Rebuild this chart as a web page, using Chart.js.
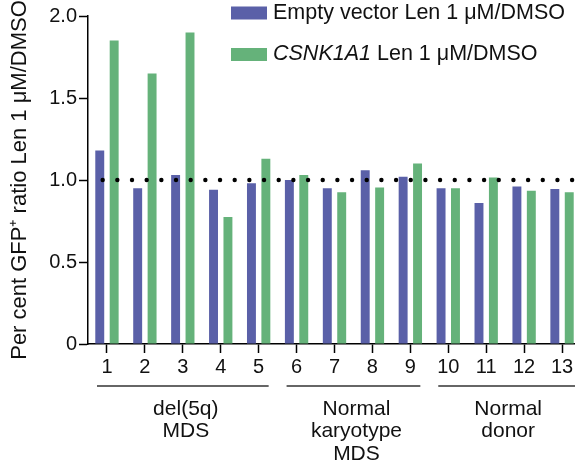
<!DOCTYPE html>
<html>
<head>
<meta charset="utf-8">
<script src="https://cdn.jsdelivr.net/npm/chart.js@4"></script>
<style>
  html, body { margin: 0; padding: 0; background: #fff; overflow: hidden; }
  #wrap { width: 575px; height: 466px; overflow: hidden; }
</style>
</head>
<body>
<div id="wrap"><canvas id="myChart" width="600" height="466"></canvas></div>
<script>
const categories = ['1', '2', '3', '4', '5', '6', '7', '8', '9', '10', '11', '12', '13'];
const emptyVector = [1.18, 0.95, 1.03, 0.94, 0.98, 1.00, 0.95, 1.06, 1.02, 0.95, 0.86, 0.96, 0.945];
const csnk1a1 = [1.85, 1.65, 1.90, 0.775, 1.13, 1.03, 0.925, 0.955, 1.10, 0.95, 1.015, 0.935, 0.925];
const yTicks = [0, 0.5, 1.0, 1.5, 2.0];
const referenceValue = 1.0;
const groups = [
  { lines: ['del(5q)', 'MDS'], first: 0, last: 4 },
  { lines: ['Normal', 'karyotype', 'MDS'], first: 5, last: 8 },
  { lines: ['Normal', 'donor'], first: 9, last: 12 }
];
const legendItems = [
  { parts: [['', 'Empty vector Len 1 \u03bcM/DMSO']], color: '#5a60a8' },
  { parts: [['italic ', 'CSNK1A1'], ['', ' Len 1 \u03bcM/DMSO']], color: '#65b27a' }
];

const FONT = '"Liberation Sans", Arial, Helvetica, sans-serif';

const dottedLine = {
  id: 'dottedLine',
  afterDatasetsDraw(chart) {
    const { ctx, chartArea, scales } = chart;
    const y = scales.y.getPixelForValue(referenceValue);
    const step = 14.67;
    ctx.save();
    ctx.fillStyle = '#000';
    for (let x = chartArea.left + step; x < chartArea.right + 2; x += step) {
      ctx.beginPath();
      ctx.arc(x, y, 2.2, 0, Math.PI * 2);
      ctx.fill();
    }
    ctx.restore();
  }
};

const groupLabels = {
  id: 'groupLabels',
  afterDraw(chart) {
    const { ctx, scales, chartArea } = chart;
    const x = scales.x;
    ctx.save();
    ctx.strokeStyle = '#333';
    ctx.lineWidth = 1.5;
    ctx.fillStyle = '#111';
    ctx.font = '21px ' + FONT;
    ctx.textAlign = 'center';
    ctx.textBaseline = 'middle';
    groups.forEach((g, gi) => {
      const x1 = x.getPixelForValue(g.first) - 10;
      let x2 = x.getPixelForValue(g.last) + 10;
      if (gi === groups.length - 1) x2 = chartArea.right;
      ctx.beginPath();
      ctx.moveTo(x1, 386);
      ctx.lineTo(x2, 386);
      ctx.stroke();
      const cx = (x.getPixelForValue(g.first) + x.getPixelForValue(g.last)) / 2 + 3;
      g.lines.forEach((t, i) => ctx.fillText(t, cx, 409 + i * 22.5));
    });
    ctx.restore();
  }
};

const customLegend = {
  id: 'customLegend',
  afterDraw(chart) {
    const { ctx } = chart;
    ctx.save();
    ctx.textBaseline = 'middle';
    legendItems.forEach((item, i) => {
      const y = 13 + i * 41.5;
      ctx.fillStyle = item.color;
      ctx.fillRect(231, y - 6.5, 36, 13);
      ctx.fillStyle = '#111';
      let tx = 273;
      item.parts.forEach(([style, text]) => {
        ctx.font = style + '21.5px ' + FONT;
        ctx.fillText(text, tx, y);
        tx += ctx.measureText(text).width;
      });
    });
    ctx.restore();
  }
};

new Chart(document.getElementById('myChart').getContext('2d'), {
  type: 'bar',
  data: {
    labels: categories,
    datasets: [
      { label: 'Empty vector Len 1 \u03bcM/DMSO', data: emptyVector, backgroundColor: '#5a60a8',
        categoryPercentage: 0.76, barPercentage: 0.62 },
      { label: 'CSNK1A1 Len 1 \u03bcM/DMSO', data: csnk1a1, backgroundColor: '#65b27a',
        categoryPercentage: 0.76, barPercentage: 0.62 }
    ]
  },
  options: {
    responsive: false,
    animation: false,
    layout: { padding: { top: 16, right: 19, left: 0, bottom: 0 } },
    plugins: { legend: { display: false }, tooltip: { enabled: false } },
    scales: {
      x: {
        grid: { offset: false, drawOnChartArea: false, tickLength: 9, tickColor: '#000', tickWidth: 1.5 },
        border: { color: '#000', width: 1.5 },
        ticks: { color: '#111', font: { family: FONT, size: 20 }, padding: 2, maxRotation: 0, autoSkip: false },
        afterFit(scale) { scale.height = 122; }
      },
      y: {
        min: 0, max: 2,
        afterBuildTicks(scale) { scale.ticks = yTicks.map(v => ({ value: v })); },
        grid: { drawOnChartArea: false, tickLength: 9, tickColor: '#000', tickWidth: 1.5 },
        border: { color: '#000', width: 1.5 },
        ticks: {
          color: '#111', font: { family: FONT, size: 20 }, padding: 2,
          callback: v => (v === 0 ? '0' : v.toFixed(1))
        },
        title: {
          display: true, text: 'Per cent GFP\u207a ratio Len 1 \u03bcM/DMSO',
          color: '#111', font: { family: FONT, size: 22 }, padding: { top: 7, bottom: 0 }
        },
        afterFit(scale) { scale.width = 88; }
      }
    }
  },
  plugins: [dottedLine, groupLabels, customLegend]
});
</script>
</body>
</html>
